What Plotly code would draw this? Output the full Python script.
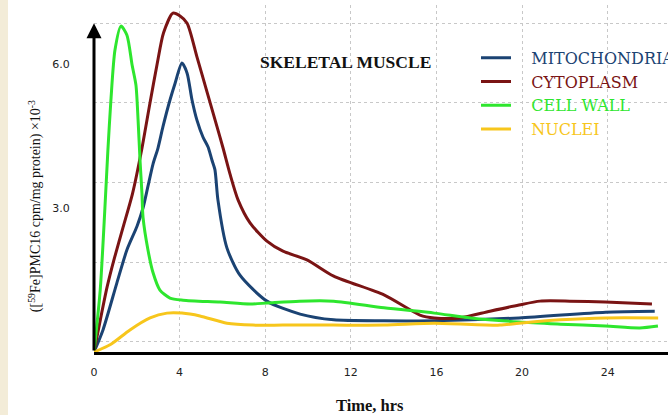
import plotly.graph_objects as go

# ---- data (time in hrs, value in cpm/mg protein x10^-3) ----
mito_t = [0, 0.42, 1.07, 1.54, 2.01, 2.29, 2.52, 2.76, 2.99, 3.22, 3.55, 3.79, 4.11, 4.35, 4.58,
          4.81, 5.09, 5.33, 5.51, 5.65, 5.79, 6.21, 6.82, 8.08, 9.63, 11.2, 13.55, 15.9, 19.86,
          23.9, 26.2]
mito_v = [0, 0.46, 1.44, 2.13, 2.62, 3.0, 3.45, 3.92, 4.25, 4.69, 5.25, 5.6, 6.02, 5.81, 5.25,
          4.83, 4.48, 4.27, 4.0, 3.8, 3.17, 2.17, 1.6, 1.06, 0.79, 0.67, 0.65, 0.65, 0.71,
          0.83, 0.85]

cyto_t = [0, 0.3, 0.61, 0.95, 1.36, 1.8, 2.2, 2.62, 2.95, 3.25, 3.69, 4.02, 4.35, 4.81, 5.28,
          5.75, 6.03, 6.36, 6.73, 7.29, 8.08, 8.83, 9.95, 11.2, 13.55, 15.23, 15.9, 17.1, 18.5,
          19.86, 20.84, 22.24, 23.88, 26.07]
cyto_v = [0, 0.68, 1.35, 1.95, 2.6, 3.3, 4.15, 5.2, 6.0, 6.65, 7.06, 7.0, 6.85, 6.15, 5.42,
          4.69, 4.25, 3.7, 3.17, 2.69, 2.31, 2.1, 1.92, 1.58, 1.19, 0.77, 0.71, 0.71, 0.85,
          0.98, 1.06, 1.06, 1.04, 1.0]

wall_t = [0, 0.29, 0.51, 0.65, 0.79, 0.98, 1.26, 1.54, 1.78, 1.96, 2.06, 2.15, 2.24, 2.29, 2.52,
          2.76, 3.08, 3.55, 4.16, 5.89, 7.29, 8.08, 9.6, 11.2, 13.55, 15.9, 17.6, 19.86, 21.8,
          23.9, 25.5, 26.35]
wall_v = [0, 1.29, 3.0, 4.21, 5.25, 6.29, 6.79, 6.6, 5.98, 5.56, 4.83, 4.0, 3.31, 2.81, 2.13,
          1.65, 1.29, 1.125, 1.08, 1.04, 1.0, 1.02, 1.06, 1.06, 0.92, 0.81, 0.71, 0.625, 0.58,
          0.54, 0.5, 0.54]

nucl_t = [0, 0.75, 1.68, 2.62, 3.41, 4.11, 4.95, 6.21, 7.43, 8.83, 11.17, 13.55, 15.9,
          18.97, 19.86, 21.8, 23.88, 26.36]
nucl_v = [0, 0.15, 0.46, 0.71, 0.81, 0.81, 0.75, 0.6, 0.56, 0.56, 0.56, 0.56, 0.6,
          0.56, 0.6, 0.67, 0.71, 0.71]

x_ticks = [0, 4, 8, 12, 16, 20, 24]
y_ticks = [3.0, 6.0]
y_labels = ["3.0", "6.0"]

series = [
    ("MITOCHONDRIA", mito_t, mito_v, "#1b4373"),
    ("CYTOPLASM", cyto_t, cyto_v, "#7a1414"),
    ("CELL WALL", wall_t, wall_v, "#2ee62e"),
    ("NUCLEI", nucl_t, nucl_v, "#f7c61c"),
]

SERIF = "Liberation Serif, Times New Roman, serif"
LEG_SERIF = "DejaVu Serif, Liberation Serif, serif"
SANS = "DejaVu Sans, Verdana, sans-serif"
GAP = "\u00a0\u00a0\u00a0"

fig = go.Figure()
for name, t, v, c in series:
    fig.add_trace(go.Scatter(
        x=t, y=v, mode="lines",
        name=f"{GAP}<span style='color:{c}'>{name}</span>",
        line=dict(color=c, width=3, shape="spline", smoothing=0.7),
        hoverinfo="skip",
    ))

X_MAX = 26.82
Y_MAX = 7.23

fig.update_layout(
    width=668, height=415,
    margin=dict(l=94, r=0, t=5, b=63, autoexpand=False),
    paper_bgcolor="white", plot_bgcolor="white",
    showlegend=True,
    legend=dict(
        x=0.6655, y=0.897, xanchor="left", yanchor="top",
        bgcolor="rgba(0,0,0,0)",
        font=dict(family=LEG_SERIF, size=16),
        itemwidth=30, tracegroupgap=0,
    ),
    xaxis=dict(
        range=[0, X_MAX], tickvals=x_ticks,
        showgrid=True, gridcolor="#c8c8c8", griddash="dot", gridwidth=1,
        zeroline=True, zerolinecolor="rgba(0,0,0,0)",
        showline=True, linecolor="black", linewidth=3,
        ticks="outside", ticklen=0, ticklabelstandoff=8,
        tickfont=dict(family=SANS, size=11, color="#222"),
        fixedrange=True,
    ),
    yaxis=dict(
        range=[0, Y_MAX], tickvals=y_ticks, ticktext=y_labels,
        showgrid=False, zeroline=False, showline=False,
        ticks="outside", ticklen=0, ticklabelstandoff=21,
        tickfont=dict(family=SANS, size=11, color="#222"),
        fixedrange=True,
    ),
    yaxis2=dict(
        range=[0, Y_MAX], overlaying="y", side="left",
        tick0=1.87, dtick=1.66, tickmode="linear",
        showgrid=True, gridcolor="#c8c8c8", griddash="dot", gridwidth=1,
        showticklabels=False, zeroline=False, showline=False,
        fixedrange=True,
    ),
)

# invisible trace to activate yaxis2 grid
fig.add_trace(go.Scatter(x=[0], y=[0], yaxis="y2", mode="markers",
                         marker=dict(opacity=0), showlegend=False, hoverinfo="skip"))

# y axis with arrow
fig.add_annotation(x=0, y=6.85, ax=0, ay=0, xref="x", yref="y", axref="x", ayref="y",
                   showarrow=True, arrowhead=2, arrowsize=1, arrowwidth=3,
                   arrowcolor="black", text="")

# chart label
fig.add_annotation(text="<b>SKELETAL MUSCLE</b>", x=0.438, y=0.836, xref="paper", yref="paper",
                   xanchor="center", yanchor="middle",
                   showarrow=False, font=dict(family=SERIF, size=17.5, color="#111"))

# axis titles
fig.add_annotation(text="<b>Time, hrs</b>", x=0.481, y=-0.153, xref="paper", yref="paper",
                   xanchor="center", yanchor="middle",
                   showarrow=False, font=dict(family=SERIF, size=16.5, color="#111"))
fig.add_annotation(text="([<sup>59</sup>Fe]PMC16 cpm/mg protein) ×10<sup>-3</sup>",
                   x=-0.103, y=0.42, xref="paper", yref="paper", textangle=-90,
                   xanchor="center", yanchor="middle",
                   showarrow=False, font=dict(family=SERIF, size=14, color="#111"))

# beige strip at the left edge of the picture
fig.add_shape(type="rect", xref="paper", yref="paper",
              x0=-0.1638, x1=-0.1498, y0=-0.19, y1=1.02,
              fillcolor="#f3ecd8", line=dict(width=0), layer="below")

fig.write_html("out.html", config={"displayModeBar": False},
               post_script="document.body.style.margin='0';")
